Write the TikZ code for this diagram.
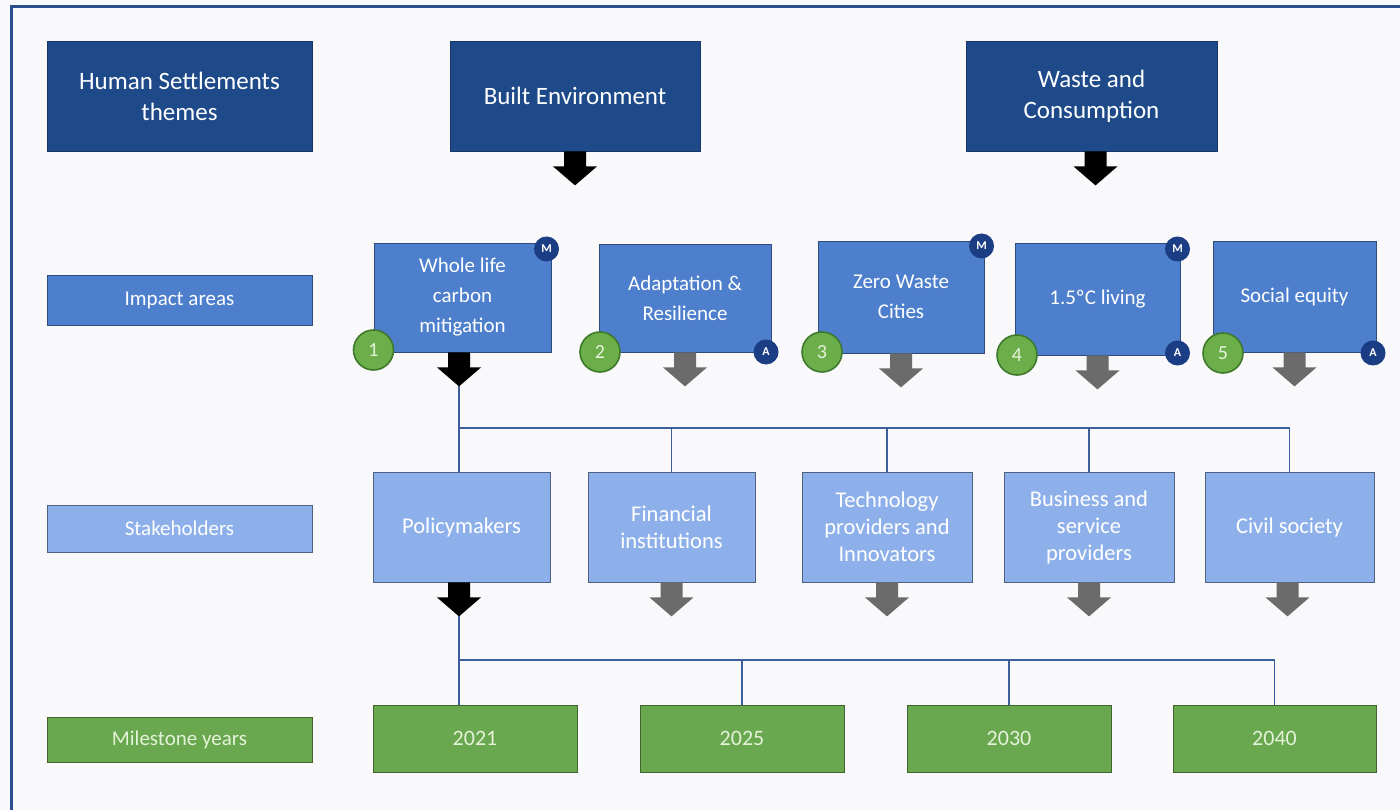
\documentclass[tikz,border=0pt]{standalone}
\usepackage{fontspec}
\usetikzlibrary{calc}
\setmainfont{Carlito}
\definecolor{bgc}{HTML}{F9F9FB}
\definecolor{framec}{HTML}{2A4E8E}
\definecolor{navy}{HTML}{1E4A8A}
\definecolor{impc}{HTML}{4D7FCC}
\definecolor{stkc}{HTML}{8EB0EA}
\definecolor{grnc}{HTML}{6AA84F}
\definecolor{grntxt}{HTML}{E4F2DA}
\definecolor{circg}{HTML}{6CAE4A}
\definecolor{circb}{HTML}{3F7A2C}
\definecolor{badgec}{HTML}{1B3D84}
\definecolor{grayarr}{HTML}{6B6B6B}
\definecolor{connc}{HTML}{3D5E9E}
\tikzset{
  base/.style={rectangle, inner sep=2pt, align=center, text=white, line width=0.8pt},
  hdr/.style={base, fill=navy, draw=navy!75!black, font=\fontsize{25}{31}\selectfont},
  lab/.style={base, minimum width=265pt, font=\fontsize{21}{26}\selectfont},
  imp/.style={base, fill=impc, draw=impc!60!black, font=\fontsize{21}{30}\selectfont},
  stk/.style={base, fill=stkc, draw=stkc!55!black, font=\fontsize{22.5}{27}\selectfont},
  yr/.style={base, fill=grnc, draw=grnc!60!black, text=grntxt, font=\fontsize{22}{26}\selectfont, minimum height=67pt},
  num/.style={circle, fill=circg, draw=circb, line width=1.6pt, minimum size=40pt, inner sep=0pt, text=grntxt, font=\fontsize{20}{24}\selectfont},
  badge/.style={circle, fill=badgec, minimum size=25pt, inner sep=0pt, text=white, font=\bfseries\fontsize{12}{14}\selectfont},
  conn/.style={draw=connc, line width=1.6pt},
  darr/.pic={\fill[pic actions] (-11,0) -- (11,0) -- (11,15) -- (22,15) -- (0,34) -- (-22,15) -- (-11,15) -- cycle;},
}
\begin{document}
\begin{tikzpicture}[x=1pt, y=-1pt]
\useasboundingbox (0,0) rectangle (1400,810);
\fill[bgc] (0,0) rectangle (1400,810);
\draw[framec, line width=3pt] (11.5,6.5) rectangle (1406,816);

% header row
\node[hdr, minimum width=265pt, minimum height=110pt] (hst) at (179.5,96) {Human Settlements\\themes};
\node[hdr, minimum width=250pt, minimum height=110pt] (be) at (575,96) {Built Environment};
\node[hdr, minimum width=251pt, minimum height=110pt] (wc) at (1091.5,96) {Waste and\\Consumption};
\pic[fill=black] at (be.south) {darr};
\pic[fill=black] at ($(wc.south)+(4,0)$) {darr};

% row labels
\node[lab, fill=impc, draw=impc!60!black, minimum height=50pt] (limp) at (179.5,300) {Impact areas};
\node[lab, fill=stkc, draw=stkc!55!black, minimum height=47pt] (lstk) at (179.5,528.5) {Stakeholders};
\node[lab, fill=grnc, draw=grnc!60!black, text=grntxt, minimum height=45pt] (lyr) at (179.5,739.5) {Milestone years};

% impact areas
\node[imp, minimum width=177pt, minimum height=109pt] (i1) at (462.5,297.5) {Whole life\\carbon\\mitigation};
\node[imp, minimum width=172pt, minimum height=108pt] (i2) at (685,298) {Adaptation \&\\Resilience};
\node[imp, minimum width=166pt, minimum height=112pt] (i3) at (901,297) {Zero Waste\\Cities};
\node[imp, minimum width=165pt, minimum height=112pt] (i4) at (1097.5,299) {1.5ºC living};
\node[imp, minimum width=163pt, minimum height=111pt] (i5) at (1294.5,296.5) {Social equity};

\coordinate (t1) at (459,386);
\pic[fill=black] at (i1.south -| t1) {darr};
\pic[fill=grayarr] at (i2.south) {darr};
\pic[fill=grayarr] at (i3.south) {darr};
\pic[fill=grayarr] at (i4.south) {darr};
\pic[fill=grayarr] at (i5.south) {darr};

\node[num] (n1) at (373.5,350) {1};
\node[num] (n2) at (600,352) {2};
\node[num] (n3) at (822,352) {3};
\node[num] (n4) at (1017,355) {4};
\node[num] (n5) at (1223,353) {5};
\node[badge] (m1) at (546.5,249) {M};
\node[badge] (m3) at (981.5,246) {M};
\node[badge] (m4) at (1177.5,249) {M};
\node[badge] (a2) at (766,352) {A};
\node[badge] (a4) at (1177.5,353) {A};
\node[badge] (a5) at (1373,353) {A};

% stakeholders
\node[stk, minimum width=177pt, minimum height=110pt] (pol) at (461.5,527) {Policymakers};
\node[stk, minimum width=167pt, minimum height=110pt] (fin) at (671.5,527) {Financial\\institutions};
\node[stk, minimum width=170pt, minimum height=110pt] (tec) at (887,527) {Technology\\providers and\\Innovators};
\node[stk, minimum width=170pt, minimum height=110pt] (bus) at (1089,527) {Business and\\service\\providers};
\node[stk, minimum width=169pt, minimum height=110pt] (civ) at (1289.5,527) {Civil society};

\coordinate (j1) at (459,428);
\draw[conn] (t1) -- (j1 |- pol.north);
\draw[conn] (j1) -- (j1 -| civ.north) -- (civ.north);
\draw[conn] (j1 -| fin.north) -- (fin.north);
\draw[conn] (j1 -| tec.north) -- (tec.north);
\draw[conn] (j1 -| bus.north) -- (bus.north);

\coordinate (t2) at (459,616);
\pic[fill=black] at (pol.south -| t2) {darr};
\pic[fill=grayarr] at (fin.south) {darr};
\pic[fill=grayarr] at (tec.south) {darr};
\pic[fill=grayarr] at (bus.south) {darr};
\pic[fill=grayarr] at ($(civ.south)+(-2,0)$) {darr};

% milestone years
\node[yr, minimum width=204pt] (y21) at (475,738.5) {2021};
\node[yr, minimum width=204pt] (y25) at (742,738.5) {2025};
\node[yr, minimum width=204pt] (y30) at (1009,738.5) {2030};
\node[yr, minimum width=203pt] (y40) at (1274.5,738.5) {2040};

\coordinate (j2) at (459,660);
\draw[conn] (t2) -- (j2 |- y21.north);
\draw[conn] (j2) -- (j2 -| y40.north) -- (y40.north);
\draw[conn] (j2 -| y25.north) -- (y25.north);
\draw[conn] (j2 -| y30.north) -- (y30.north);
\end{tikzpicture}
\end{document}
